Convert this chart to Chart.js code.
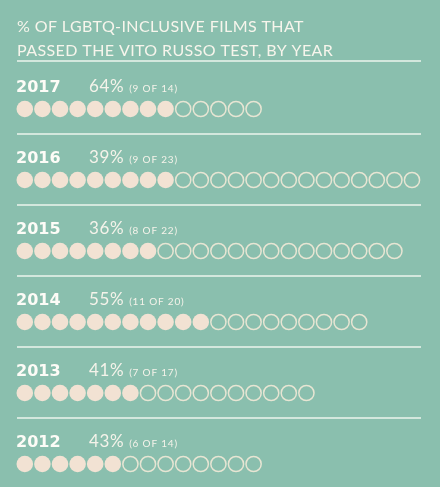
<!DOCTYPE html>
<html>
<head>
<meta charset="utf-8">
<script src="https://cdn.jsdelivr.net/npm/chart.js@4"></script>
<style>
  html, body { margin: 0; padding: 0; background: #8abfae; }
  #wrap { position: relative; width: 440px; height: 487px; }
</style>
</head>
<body>
<div id="wrap"><canvas id="c"></canvas></div>
<script>
// ---- data ----
const titleLines = ['% OF LGBTQ-INCLUSIVE FILMS THAT', 'PASSED THE VITO RUSSO TEST, BY YEAR'];
const years = ['2017', '2016', '2015', '2014', '2013', '2012'];
const percents = [64, 39, 36, 55, 41, 43];
const passed = [9, 9, 8, 11, 7, 6];
const totals = [14, 23, 22, 20, 17, 14];

// build point lists from the data
const passedPts = [];
const failedPts = [];
years.forEach((y, r) => {
  for (let i = 0; i < totals[r]; i++) {
    (i < passed[r] ? passedPts : failedPts).push({ x: i, y: r });
  }
});

const BG = '#8abfae';
const labelsPlugin = {
  id: 'rowLabels',
  beforeDraw(chart) {
    const ctx = chart.ctx;
    ctx.save();
    ctx.fillStyle = BG;
    ctx.fillRect(0, 0, chart.width, chart.height);
    ctx.restore();
  },
  afterDatasetsDraw(chart) {
    const ctx = chart.ctx;
    const xs = chart.scales.x, ys = chart.scales.y;
    const left = xs.getPixelForValue(0) - 8.8;
    ctx.save();
    // title
    ctx.fillStyle = '#f7f5ec';
    ctx.font = '400 16px Lato, "Open Sans", sans-serif';
    ctx.letterSpacing = '0.4px';
    ctx.textBaseline = 'alphabetic';
    ctx.fillText(titleLines[0], left + 1, 32);
    ctx.fillText(titleLines[1], left + 1, 56);
    // separators
    ctx.letterSpacing = '0px';
    ctx.strokeStyle = '#d3e7dd';
    ctx.lineWidth = 2;
    years.forEach((yr, r) => {
      const cy = ys.getPixelForValue(r);
      const sy = r === 0 ? cy - 48 : cy - 46;
      ctx.beginPath();
      ctx.moveTo(left + 1, sy);
      ctx.lineTo(421, sy);
      ctx.stroke();
      const base = cy - 17;
      ctx.fillStyle = '#fdfcf7';
      ctx.font = 'bold 16px "DejaVu Sans", Lato, sans-serif';
      ctx.fillText(yr, left, base);
      ctx.fillStyle = '#f5f3ea';
      ctx.font = '400 17px Lato, "Open Sans", sans-serif';
      ctx.letterSpacing = '0.6px';
      const pct = percents[r] + '%';
      ctx.fillText(pct, 89, base);
      const w = ctx.measureText(pct).width;
      ctx.font = '400 10px Lato, "Open Sans", sans-serif';
      ctx.letterSpacing = '0.8px';
      ctx.fillText('(' + passed[r] + ' OF ' + totals[r] + ')', 89 + w + 5, base);
      ctx.letterSpacing = '0px';
    });
    ctx.restore();
  }
};

new Chart(document.getElementById('c'), {
  type: 'scatter',
  data: {
    datasets: [
      {
        label: 'Passed',
        data: passedPts,
        pointStyle: 'circle',
        pointRadius: 8.3,
        backgroundColor: '#f2e2d3',
        borderColor: '#f2e2d3',
        borderWidth: 0
      },
      {
        label: 'Did not pass',
        data: failedPts,
        pointStyle: 'circle',
        pointRadius: 7.6,
        backgroundColor: 'rgba(0,0,0,0)',
        borderColor: '#e7e5d3',
        borderWidth: 1.5
      }
    ]
  },
  options: {
    responsive: true,
    maintainAspectRatio: false,
    animation: false,
    events: [],
    layout: { padding: 0, autoPadding: false },
    plugins: { legend: { display: false }, tooltip: { enabled: false }, title: { display: false } },
    scales: {
      x: { type: 'linear', display: false, min: -1.4091, max: 23.5909 },
      y: { type: 'linear', display: false, reverse: true, min: -1.53521, max: 5.32394 }
    }
  },
  plugins: [labelsPlugin]
});
</script>
</body>
</html>
